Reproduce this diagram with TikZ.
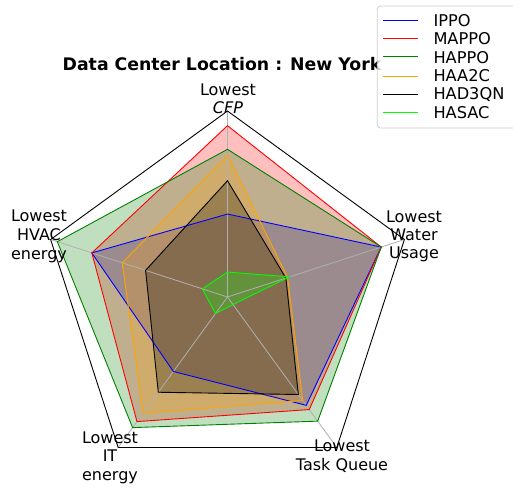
\documentclass[tikz,border=0pt]{standalone}
\usepackage{fontspec}
\setmainfont{DejaVu Sans}
\definecolor{mplgreen}{rgb}{0,0.5,0}
\definecolor{mplorange}{rgb}{1,0.647,0}
\definecolor{mpllime}{HTML}{00FF00}
\definecolor{gridgray}{HTML}{B0B0B0}
\tikzset{
  lbl/.style={anchor=base, inner sep=0pt, font=\fontsize{16}{19}\selectfont},
  legtext/.style={anchor=base west, inner sep=0pt, font=\fontsize{16.2}{19}\selectfont},
  spoke/.style={draw=gridgray, line width=0.8pt},
  frameline/.style={draw=black, line width=0.9pt, line join=miter},
  serline/.style={line width=0.9pt, line join=miter},
  legline/.style={line width=1.1pt, draw opacity=1}
}
\begin{document}
\begin{tikzpicture}[x=1pt,y=1pt]
\useasboundingbox (-227.5,-192) rectangle (285.5,297);

% radar axes, in units of the frame radius
\begin{scope}[x=186pt,y=186pt]
  % filled areas of every method
  \foreach \c/\a/\b/\d/\e/\f in {
      blue/0.446/0.767/0.495/0.720/0.869,
      red/0.921/0.767/0.828/0.748/0.869,
      mplgreen/0.794/0.962/0.868/0.825/0.869,
      mplorange/0.763/0.595/0.773/0.688/0.340,
      black/0.625/0.463/0.633/0.648/0.330,
      mpllime/0.134/0.142/0.110/0.050/0.350}
    \fill[\c, fill opacity=0.25] (90:\a) -- (162:\b) -- (234:\d) -- (306:\e) -- (18:\f) -- cycle;
  % spokes
  \coordinate (c) at (0,0);
  \coordinate (vcfp) at (90:1);
  \coordinate (vhvac) at (162:1);
  \coordinate (vit) at (234:1);
  \coordinate (vtask) at (306:1);
  \coordinate (vwater) at (18:1);
  \foreach \v in {vcfp,vhvac,vit,vtask,vwater}
    \draw[spoke] (c) -- (\v);
  % outlines of every method
  \foreach \c/\a/\b/\d/\e/\f in {
      blue/0.446/0.767/0.495/0.720/0.869,
      red/0.921/0.767/0.828/0.748/0.869,
      mplgreen/0.794/0.962/0.868/0.825/0.869,
      mplorange/0.763/0.595/0.773/0.688/0.340,
      black/0.625/0.463/0.633/0.648/0.330,
      mpllime/0.134/0.142/0.110/0.050/0.350}
    \draw[serline, \c] (90:\a) -- (162:\b) -- (234:\d) -- (306:\e) -- (18:\f) -- cycle;
  % pentagon frame
  \draw[frameline] (vcfp) -- (vhvac) -- (vit) -- (vtask) -- (vwater) -- cycle;
\end{scope}

% axis labels
\node[lbl] (cfpa) at (0.5,201) {Lowest};
\node[lbl] (cfpb) at (0.5,183.7) {\textit{CFP}};
\node[lbl] (hvaca) at (-188.5,75) {Lowest};
\node[lbl] (hvacb) at (-188.5,56) {HVAC};
\node[lbl] (hvacc) at (-188.5,37) {energy};
\node[lbl] (watera) at (186.5,74.5) {Lowest};
\node[lbl] (waterb) at (186.5,56.5) {Water};
\node[lbl] (waterc) at (186.5,38.5) {Usage};
\node[lbl] (ita) at (-117.5,-146.3) {Lowest};
\node[lbl] (itb) at (-117.5,-164.7) {IT};
\node[lbl] (itc) at (-117.5,-183) {energy};
\node[lbl] (taska) at (114.5,-154.7) {Lowest};
\node[lbl] (taskb) at (114.5,-173) {Task Queue};

% title
\node[anchor=base west, inner sep=0pt, font=\bfseries\fontsize{17.3}{20}\selectfont] (title) at (-165,226.3) {Data Center Location : New York};

% legend box
\draw[rounded corners=3pt, draw=black!20, fill=white, fill opacity=0.8, line width=0.8pt] (149.8,169) rectangle (300,291);

% legend entries: sample line and method name
\coordinate (la1) at (155.8,276.5); \coordinate (lb1) at (190.8,276.5);
\coordinate (la2) at (155.8,258.5); \coordinate (lb2) at (190.8,258.5);
\coordinate (la3) at (155.8,240.5); \coordinate (lb3) at (190.8,240.5);
\coordinate (la4) at (155.8,220.5); \coordinate (lb4) at (190.8,220.5);
\coordinate (la5) at (155.8,202.5); \coordinate (lb5) at (190.8,202.5);
\coordinate (la6) at (155.8,184.5); \coordinate (lb6) at (190.8,184.5);
\draw[legline, draw=blue] (la1) -- (lb1);
\draw[legline, draw=red] (la2) -- (lb2);
\draw[legline, draw=mplgreen] (la3) -- (lb3);
\draw[legline, draw=mplorange] (la4) -- (lb4);
\draw[legline, draw=black] (la5) -- (lb5);
\draw[legline, draw=mpllime] (la6) -- (lb6);
\node[legtext] (lt1) at (205.8,270.3) {IPPO};
\node[legtext] (lt2) at (205.8,252.1) {MAPPO};
\node[legtext] (lt3) at (205.8,233.8) {HAPPO};
\node[legtext] (lt4) at (205.8,215.5) {HAA2C};
\node[legtext] (lt5) at (205.8,197.2) {HAD3QN};
\node[legtext] (lt6) at (205.8,178.9) {HASAC};
\end{tikzpicture}
\end{document}
